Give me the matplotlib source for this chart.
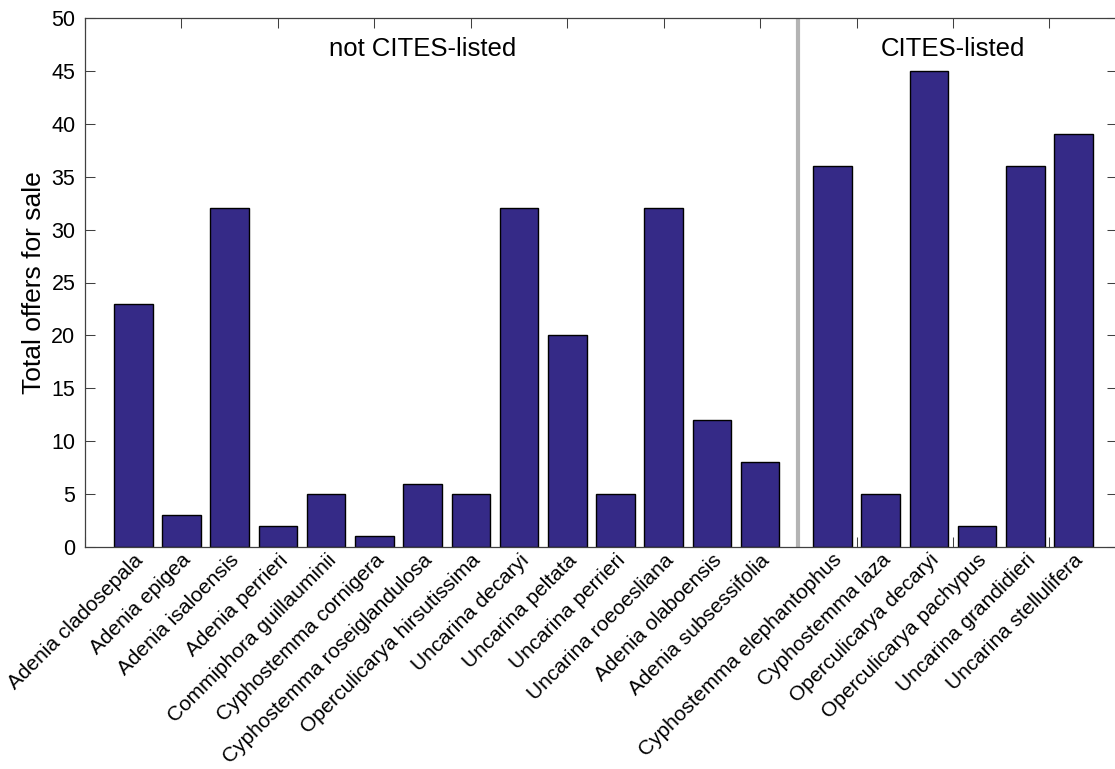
import numpy as np
import matplotlib
matplotlib.use("Agg")
import matplotlib.pyplot as plt
from matplotlib.ticker import FixedLocator
from matplotlib.transforms import ScaledTranslation

plt.rcParams['font.family'] = ['Liberation Sans', 'DejaVu Sans']

# DATA
not_listed = ["Adenia cladosepala", "Adenia epigea", "Adenia isaloensis",
              "Adenia perrieri", "Commiphora guillauminii", "Cyphostemma cornigera",
              "Cyphostemma roseiglandulosa", "Operculicarya hirsutissima",
              "Uncarina decaryi", "Uncarina peltata", "Uncarina perrieri",
              "Uncarina roeoesliana", "Adenia olaboensis", "Adenia subsessifolia"]
not_listed_offers = [23, 3, 32, 2, 5, 1, 6, 5, 32, 20, 5, 32, 12, 8]

listed = ["Cyphostemma elephantophus", "Cyphostemma laza", "Operculicarya decaryi",
          "Operculicarya pachypus", "Uncarina grandidieri", "Uncarina stellulifera"]
listed_offers = [36, 5, 45, 2, 36, 39]

# POSITIONS (second group shifted after the divider)
x1 = np.arange(1, len(not_listed) + 1)
x2 = np.arange(len(not_listed) + 1.5, len(not_listed) + 1.5 + len(listed))
divider = 14.78

fig = plt.figure(figsize=(11.15, 7.69), dpi=100)
ax = fig.add_axes([85 / 1115, 1 - 547 / 769, 1032 / 1115, 529 / 769])

bar_color = '#352a87'
ax.bar(x1, not_listed_offers, width=0.8, color=bar_color, edgecolor='black', linewidth=1.0, zorder=2)
ax.bar(x2, listed_offers, width=0.8, color=bar_color, edgecolor='black', linewidth=1.0, zorder=2)

ax.axvline(divider, color='#b4b4b4', linewidth=3, zorder=1)

ax.set_xlim(0, 21.4)
ax.set_ylim(0, 50)
ax.set_yticks(np.arange(0, 51, 5))

# NAMES UNDER EACH BAR, PLAIN TICK MARKS AT EVEN NUMBERS
ax.xaxis.remove_overlapping_locs = False
ax.set_xticks(np.concatenate([x1, x2]))
ax.set_xticklabels(not_listed + listed, rotation=45, ha='right', va='top',
                   rotation_mode='anchor', fontsize=15)
shift = ScaledTranslation(4 / 100, 0, fig.dpi_scale_trans)
for lab in ax.get_xticklabels():
    lab.set_transform(lab.get_transform() + shift)
ax.xaxis.set_minor_locator(FixedLocator(np.arange(0, 21, 2)))
ax.tick_params(axis='x', which='major', length=0, pad=2.5)
ax.tick_params(axis='x', which='minor', direction='in', length=7.5, width=0.75,
               top=True, bottom=True, color='#404040')
ax.tick_params(axis='y', direction='in', length=7.5, width=0.75, right=True,
               labelsize=15.5, pad=7, color='#404040')

for side in ['left', 'right', 'top', 'bottom']:
    ax.spines[side].set_color('#404040')
    ax.spines[side].set_linewidth(0.9)

ax.set_ylabel("Total offers for sale", fontsize=19, labelpad=4)

ax.text(7, 47.1, "not CITES-listed", ha='center', va='center', fontsize=18.5)
ax.text(18, 47.1, "CITES-listed", ha='center', va='center', fontsize=18.5)

plt.savefig("out.png", dpi=100)
